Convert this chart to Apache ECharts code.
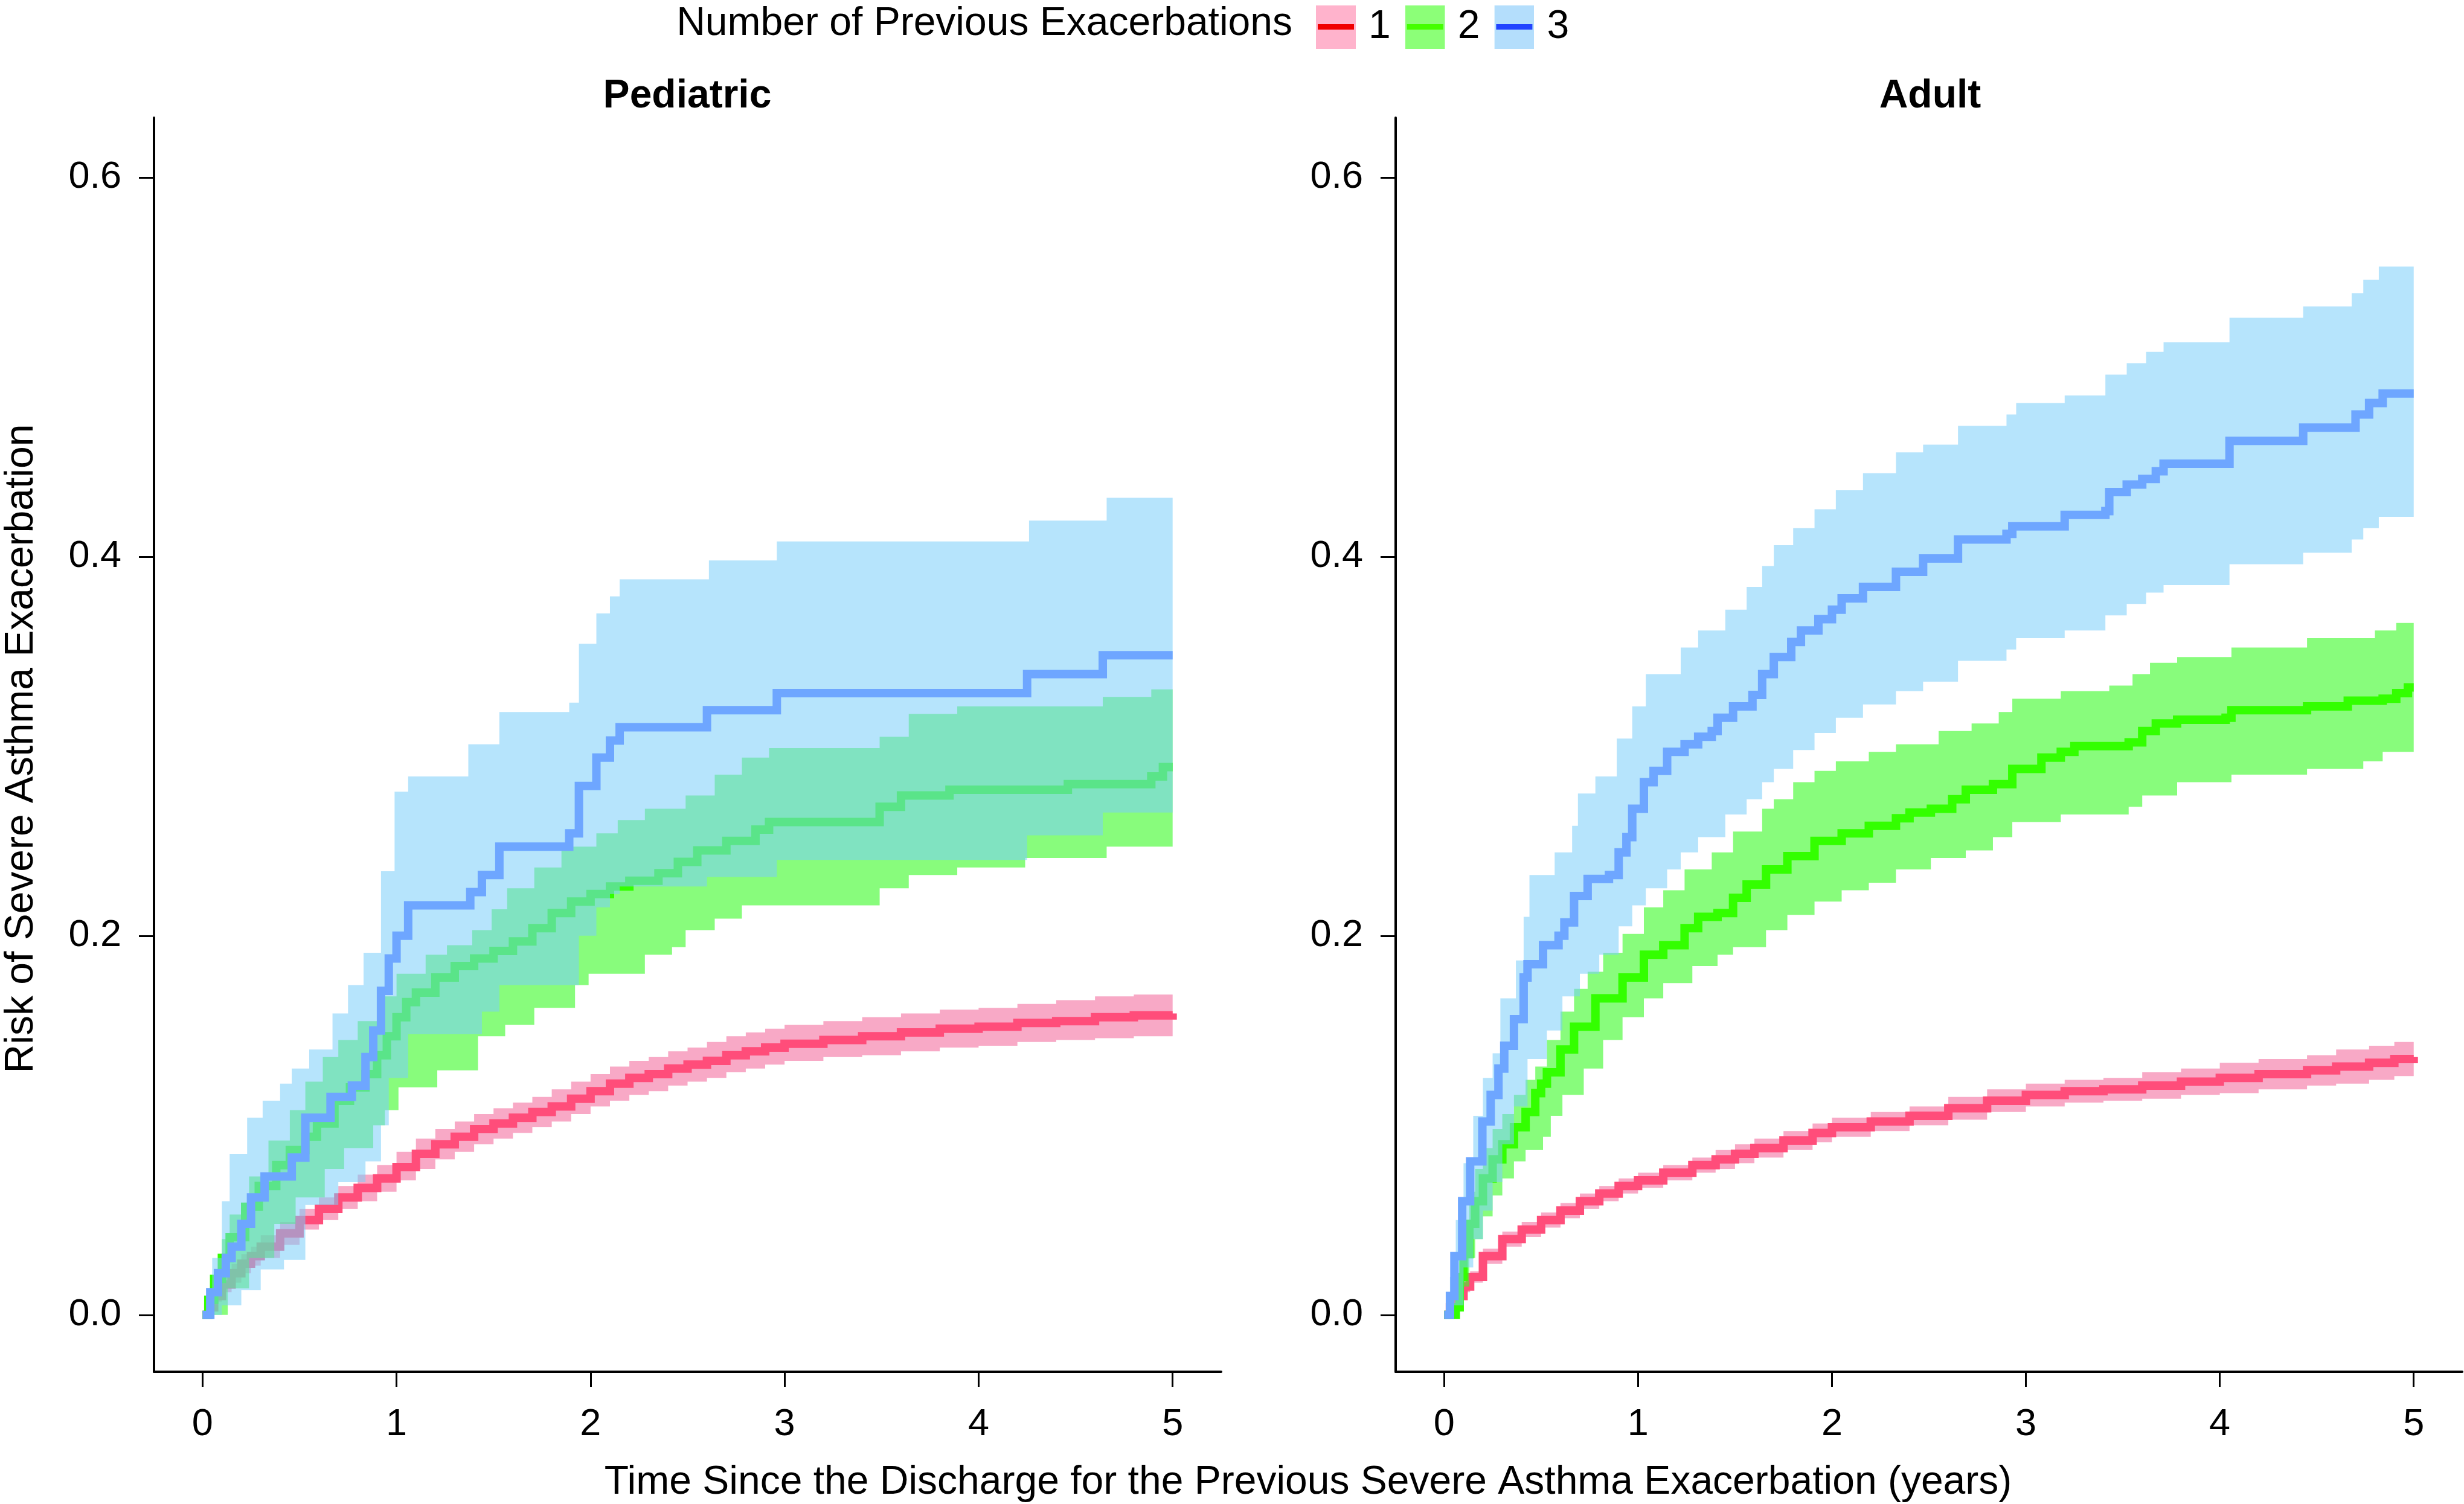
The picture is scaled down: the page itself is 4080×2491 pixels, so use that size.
<!DOCTYPE html>
<html><head><meta charset="utf-8">
<script src="https://cdn.jsdelivr.net/npm/echarts@6/dist/echarts.min.js"></script>
<style>html,body{margin:0;padding:0;background:#fff}#c{width:4080px;height:2491px}</style>
</head><body><div id="c"></div>
<script>
// ---------- text ----------
const groupNames = ['1', '2', '3'];
const legendTitle = 'Number of Previous Exacerbations';
const panelTitles = ['Pediatric', 'Adult'];
const xTitle = 'Time Since the Discharge for the Previous Severe Asthma Exacerbation (years)';
const yTitle = 'Risk of Severe Asthma Exacerbation';
const xTicks = [0, 1, 2, 3, 4, 5];
const yTicks = [0, 0.2, 0.4, 0.6];
const yTickLabels = ['0.0', '0.2', '0.4', '0.6'];

// ---------- Pediatric, 1 previous exacerbation ----------
const ped1X  = [0,0.03,0.06,0.1,0.15,0.2,0.25,0.3,0.4,0.5,0.6,0.7,0.8,0.9,1.0,1.1,1.2,1.3,1.4,1.5,1.6,1.7,1.8,1.9,2.0,2.1,2.2,2.3,2.4,2.5,2.6,2.7,2.8,2.9,3.0,3.2,3.4,3.6,3.8,4.0,4.2,4.4,4.6,4.8,5.0];
const ped1Y  = [0,0.004,0.01,0.016,0.022,0.027,0.031,0.036,0.043,0.05,0.056,0.062,0.067,0.072,0.078,0.085,0.09,0.094,0.098,0.101,0.104,0.107,0.11,0.114,0.118,0.122,0.125,0.127,0.13,0.132,0.134,0.137,0.139,0.141,0.143,0.145,0.147,0.149,0.151,0.152,0.154,0.155,0.157,0.158,0.159];
const ped1Lo = [0,0.002,0.007,0.012,0.017,0.022,0.026,0.030,0.037,0.045,0.050,0.056,0.060,0.065,0.071,0.077,0.082,0.086,0.090,0.093,0.096,0.099,0.102,0.106,0.110,0.113,0.116,0.118,0.121,0.123,0.125,0.128,0.130,0.132,0.134,0.136,0.137,0.139,0.141,0.142,0.144,0.145,0.146,0.147,0.148];
const ped1Hi = [0,0.006,0.013,0.020,0.027,0.032,0.036,0.042,0.049,0.056,0.062,0.068,0.074,0.079,0.086,0.093,0.098,0.102,0.106,0.109,0.112,0.115,0.119,0.123,0.127,0.131,0.134,0.136,0.139,0.141,0.144,0.147,0.149,0.151,0.153,0.155,0.157,0.159,0.161,0.162,0.164,0.166,0.168,0.169,0.170];

// ---------- Pediatric, 2 previous exacerbations ----------
const ped2X   = [0,0.03,0.06,0.1,0.14,0.22,0.29,0.38,0.45,0.53,0.59,0.68,0.76,0.84,0.9,0.95,1.0,1.05,1.1,1.2,1.3,1.4,1.5,1.6,1.7,1.8,1.9,2.0,2.1,2.2,2.35,2.45,2.55,2.7,2.85,2.92,3.49,3.6,3.85,4.46,4.89,4.95,5.0];
const ped2Y   = [0,0.008,0.019,0.03,0.041,0.057,0.068,0.079,0.087,0.094,0.101,0.113,0.12,0.127,0.137,0.147,0.157,0.165,0.17,0.178,0.184,0.188,0.192,0.197,0.204,0.212,0.218,0.222,0.226,0.229,0.233,0.239,0.245,0.25,0.256,0.26,0.268,0.274,0.277,0.28,0.284,0.289,0.289];
const ped2HiX = [0,0.05,0.1,0.14,0.24,0.34,0.45,0.53,0.62,0.7,0.8,0.9,1.0,1.15,1.26,1.39,1.49,1.57,1.71,1.85,2.03,2.14,2.28,2.49,2.64,2.78,2.92,3.49,3.64,3.89,4.64,4.89,5.0];
const ped2Hi  = [0,0.02,0.04,0.053,0.073,0.092,0.108,0.123,0.136,0.145,0.155,0.168,0.18,0.19,0.195,0.203,0.214,0.225,0.236,0.247,0.254,0.261,0.267,0.274,0.285,0.294,0.299,0.305,0.317,0.321,0.326,0.33,0.33];
const ped2LoX = [0,0.13,0.24,0.37,0.48,0.63,0.73,0.88,0.94,1.01,1.21,1.42,1.56,1.71,1.92,1.99,2.28,2.42,2.49,2.64,2.78,3.49,3.64,3.89,4.24,4.66,5.0];
const ped2Lo  = [0,0.014,0.03,0.048,0.062,0.077,0.088,0.1,0.108,0.12,0.129,0.147,0.153,0.162,0.174,0.18,0.19,0.194,0.203,0.209,0.216,0.225,0.232,0.236,0.241,0.247,0.247];

// ---------- Pediatric, 3 previous exacerbations ----------
const ped3X   = [0,0.04,0.08,0.12,0.15,0.2,0.25,0.32,0.46,0.53,0.66,0.77,0.84,0.88,0.92,0.96,1.0,1.06,1.38,1.44,1.53,1.89,1.94,2.03,2.1,2.15,2.6,2.96,4.25,4.64,5.0];
const ped3Y   = [0,0.012,0.022,0.03,0.036,0.048,0.062,0.073,0.083,0.104,0.115,0.121,0.136,0.15,0.171,0.188,0.2,0.216,0.223,0.232,0.247,0.254,0.279,0.294,0.303,0.31,0.319,0.328,0.338,0.348,0.348];
const ped3HiX = [0,0.05,0.1,0.14,0.23,0.31,0.4,0.46,0.55,0.67,0.75,0.83,0.92,0.99,1.06,1.37,1.53,1.89,1.94,2.03,2.1,2.15,2.61,2.96,4.26,4.66,5.0];
const ped3Hi  = [0,0.03,0.06,0.085,0.104,0.113,0.122,0.13,0.14,0.159,0.174,0.191,0.234,0.276,0.284,0.301,0.318,0.323,0.354,0.37,0.379,0.388,0.398,0.408,0.419,0.431,0.431];
const ped3LoX = [0,0.1,0.2,0.3,0.42,0.53,0.7,0.84,0.92,0.96,1.06,1.44,1.53,1.94,2.03,2.1,2.15,2.6,2.96,4.25,4.64,5.0];
const ped3Lo  = [0,0.005,0.013,0.024,0.029,0.058,0.07,0.081,0.1,0.125,0.148,0.16,0.174,0.2,0.215,0.222,0.226,0.231,0.24,0.253,0.265,0.265];

// ---------- Adult, 1 previous exacerbation ----------
const ad1X  = [0,0.03,0.06,0.1,0.134,0.2,0.3,0.4,0.5,0.6,0.7,0.8,0.9,1.0,1.13,1.28,1.4,1.5,1.6,1.75,1.9,2.0,2.2,2.4,2.6,2.8,3.0,3.2,3.4,3.6,3.8,4.0,4.2,4.45,4.6,4.77,4.9,5.0];
const ad1Y  = [0,0.004,0.01,0.015,0.02,0.031,0.04,0.045,0.05,0.055,0.06,0.064,0.068,0.071,0.075,0.079,0.082,0.085,0.088,0.092,0.096,0.099,0.102,0.105,0.109,0.113,0.116,0.118,0.119,0.121,0.123,0.125,0.127,0.129,0.131,0.133,0.135,0.136];
const ad1Lo = [0,0.002,0.007,0.012,0.017,0.027,0.036,0.041,0.046,0.051,0.056,0.06,0.064,0.067,0.071,0.075,0.077,0.080,0.083,0.087,0.091,0.094,0.097,0.100,0.103,0.107,0.110,0.112,0.113,0.114,0.116,0.117,0.119,0.121,0.122,0.124,0.126,0.127];
const ad1Hi = [0,0.006,0.013,0.018,0.023,0.035,0.044,0.049,0.054,0.059,0.064,0.068,0.072,0.075,0.079,0.083,0.087,0.090,0.093,0.097,0.101,0.104,0.107,0.110,0.115,0.119,0.122,0.124,0.125,0.128,0.130,0.133,0.135,0.137,0.140,0.142,0.144,0.145];

// ---------- Adult, 2 previous exacerbations ----------
const ad2X   = [0,0.06,0.08,0.1,0.13,0.16,0.2,0.25,0.3,0.36,0.42,0.47,0.5,0.53,0.6,0.67,0.78,0.92,1.03,1.13,1.24,1.31,1.41,1.49,1.56,1.66,1.77,1.91,2.05,2.19,2.33,2.4,2.51,2.62,2.69,2.83,2.93,3.08,3.18,3.25,3.53,3.6,3.67,3.78,4.03,4.06,4.45,4.66,4.84,4.91,4.97,5.0];
const ad2Y   = [0,0.004,0.02,0.032,0.048,0.06,0.072,0.082,0.09,0.099,0.107,0.117,0.122,0.128,0.14,0.152,0.167,0.178,0.19,0.195,0.204,0.21,0.212,0.22,0.227,0.235,0.242,0.25,0.254,0.258,0.262,0.265,0.267,0.272,0.277,0.28,0.288,0.294,0.297,0.3,0.302,0.308,0.312,0.314,0.315,0.319,0.321,0.324,0.325,0.328,0.331,0.331];
const ad2HiX = [0,0.06,0.08,0.1,0.13,0.16,0.2,0.25,0.3,0.36,0.42,0.47,0.53,0.6,0.67,0.74,0.82,0.92,1.03,1.13,1.24,1.38,1.49,1.64,1.7,1.8,1.91,2.02,2.19,2.33,2.55,2.72,2.86,2.93,3.18,3.43,3.55,3.64,3.78,4.06,4.45,4.8,4.91,5.0];
const ad2Hi  = [0,0.01,0.035,0.05,0.065,0.077,0.088,0.098,0.106,0.116,0.124,0.131,0.145,0.16,0.172,0.181,0.191,0.201,0.215,0.224,0.235,0.244,0.255,0.267,0.272,0.281,0.287,0.292,0.297,0.301,0.308,0.312,0.318,0.325,0.329,0.332,0.338,0.344,0.347,0.352,0.357,0.361,0.365,0.365];
const ad2LoX = [0,0.08,0.1,0.13,0.16,0.2,0.25,0.3,0.36,0.42,0.51,0.55,0.61,0.72,0.82,0.92,1.03,1.13,1.28,1.41,1.49,1.66,1.77,1.91,2.05,2.19,2.33,2.51,2.69,2.83,2.93,3.18,3.53,3.6,3.78,4.06,4.45,4.74,4.84,5.0];
const ad2Lo  = [0,0.005,0.015,0.03,0.04,0.052,0.063,0.072,0.081,0.087,0.094,0.105,0.116,0.13,0.145,0.157,0.167,0.175,0.184,0.19,0.194,0.203,0.211,0.218,0.224,0.228,0.235,0.241,0.245,0.252,0.26,0.264,0.268,0.274,0.281,0.285,0.288,0.292,0.297,0.297];

// ---------- Adult, 3 previous exacerbations ----------
const ad3X   = [0,0.03,0.053,0.093,0.134,0.197,0.24,0.28,0.31,0.36,0.41,0.43,0.51,0.59,0.62,0.67,0.74,0.85,0.9,0.94,0.97,1.03,1.08,1.15,1.24,1.31,1.38,1.41,1.49,1.59,1.64,1.7,1.79,1.84,1.93,2.0,2.05,2.16,2.33,2.47,2.65,2.9,2.93,3.2,3.41,3.43,3.52,3.6,3.67,3.71,4.05,4.43,4.7,4.77,4.84,5.0];
const ad3Y   = [0,0.01,0.031,0.06,0.081,0.102,0.116,0.13,0.142,0.156,0.178,0.185,0.195,0.2,0.207,0.221,0.23,0.232,0.244,0.252,0.267,0.281,0.287,0.297,0.301,0.305,0.308,0.315,0.321,0.327,0.338,0.347,0.355,0.361,0.367,0.372,0.378,0.384,0.392,0.399,0.409,0.412,0.416,0.422,0.424,0.434,0.438,0.441,0.445,0.449,0.461,0.468,0.475,0.481,0.486,0.486];
const ad3HiX = [0,0.03,0.06,0.1,0.15,0.2,0.25,0.29,0.37,0.41,0.44,0.57,0.66,0.69,0.78,0.89,0.97,1.04,1.22,1.31,1.45,1.56,1.64,1.7,1.8,1.91,2.02,2.16,2.33,2.47,2.65,2.9,2.95,3.2,3.41,3.52,3.62,3.71,4.05,4.43,4.68,4.74,4.82,5.0];
const ad3Hi  = [0,0.02,0.05,0.08,0.105,0.125,0.138,0.167,0.187,0.21,0.232,0.244,0.258,0.275,0.284,0.304,0.321,0.338,0.352,0.361,0.372,0.384,0.395,0.406,0.415,0.425,0.435,0.444,0.455,0.459,0.469,0.475,0.481,0.485,0.496,0.502,0.508,0.513,0.526,0.532,0.539,0.546,0.553,0.553];
const ad3LoX = [0,0.05,0.1,0.15,0.2,0.25,0.3,0.36,0.43,0.53,0.61,0.7,0.8,0.9,0.97,1.04,1.15,1.22,1.31,1.45,1.56,1.64,1.7,1.8,1.91,2.02,2.16,2.33,2.47,2.65,2.9,2.95,3.2,3.41,3.52,3.62,3.71,4.05,4.43,4.68,4.74,4.82,5.0];
const ad3Lo  = [0,0.005,0.025,0.04,0.055,0.07,0.09,0.11,0.135,0.15,0.168,0.18,0.19,0.205,0.216,0.225,0.235,0.244,0.252,0.264,0.272,0.281,0.288,0.298,0.307,0.315,0.322,0.329,0.334,0.345,0.351,0.357,0.361,0.369,0.375,0.381,0.385,0.396,0.402,0.409,0.415,0.421,0.421];

// ---------- styling ----------
const FONT = '"Liberation Sans", Arial, Helvetica, sans-serif';
const bandColors = ['#F8A9C6', 'rgba(57,250,37,0.6)', 'rgba(122,206,250,0.55)'];
const lineColors = ['#FF4D7A', '#33FF00', '#6EA6FF'];
const keyFill = ['#FFB3CC', '#8CFF78', '#B4DEFC'];
const keyLine = ['#F00000', '#44FF00', '#2244FF'];

function pairs(xs, ys) { return xs.map((x, i) => [x, ys[i]]); }

function stepPath(api, xs, ys) {
  const pts = [];
  for (let i = 0; i < xs.length; i++) {
    pts.push(api.coord([xs[i], ys[i]]));
    if (i + 1 < xs.length) pts.push(api.coord([xs[i + 1], ys[i]]));
  }
  return pts;
}

function bandSeries(name, g, hiX, hi, loX, lo, color, z) {
  return {
    type: 'custom', name: name, xAxisIndex: g, yAxisIndex: g, z: z, silent: true,
    data: [[0, 0]], itemStyle: { color: color },
    renderItem: function (params, api) {
      const up = stepPath(api, hiX, hi);
      const dn = stepPath(api, loX, lo).reverse();
      return { type: 'polygon', shape: { points: up.concat(dn) }, style: { fill: color } };
    }
  };
}

function lineSeries(name, g, xs, ys, color, z) {
  return {
    type: 'line', name: name, xAxisIndex: g, yAxisIndex: g, z: z, step: 'end',
    showSymbol: false, symbol: 'none', silent: true, data: pairs(xs, ys),
    lineStyle: { color: color, width: 14, cap: 'butt', join: 'miter' },
    itemStyle: { color: color }
  };
}

function keyIcon(i) {
  const svg = "<svg xmlns='http://www.w3.org/2000/svg' width='66' height='72'>" +
    "<rect x='0' y='0' width='66' height='72' fill='" + keyFill[i] + "'/>" +
    "<rect x='3' y='31' width='60' height='9' fill='" + keyLine[i] + "'/></svg>";
  return 'image://data:image/svg+xml;charset=utf-8,' + encodeURIComponent(svg);
}

function xAxisFor(g) {
  return {
    type: 'value', gridIndex: g, min: -0.25, max: 5.25,
    axisLine: { show: true, onZero: false, lineStyle: { color: '#000', width: 4 } },
    axisTick: { show: true, length: 25, customValues: xTicks, lineStyle: { color: '#000', width: 3 } },
    axisLabel: { customValues: xTicks, fontSize: 63, color: '#000', fontFamily: FONT, margin: 56,
      formatter: v => String(v) },
    splitLine: { show: false }
  };
}
function yAxisFor(g) {
  return {
    type: 'value', gridIndex: g, min: -0.03, max: 0.6315,
    axisLine: { show: true, onZero: false, lineStyle: { color: '#000', width: 4 } },
    axisTick: { show: true, length: 25, customValues: yTicks, lineStyle: { color: '#000', width: 3 } },
    axisLabel: { customValues: yTicks, fontSize: 63, color: '#000', fontFamily: FONT, margin: 54,
      formatter: v => { const k = yTicks.findIndex(t => Math.abs(t - v) < 1e-9); return k >= 0 ? yTickLabels[k] : v.toFixed(1); } },
    splitLine: { show: false }
  };
}

const panels = [
  { bands: [[ped1X, ped1Hi, ped1X, ped1Lo], [ped2HiX, ped2Hi, ped2LoX, ped2Lo], [ped3HiX, ped3Hi, ped3LoX, ped3Lo]],
    lines: [[ped1X, ped1Y], [ped2X, ped2Y], [ped3X, ped3Y]] },
  { bands: [[ad1X, ad1Hi, ad1X, ad1Lo], [ad2HiX, ad2Hi, ad2LoX, ad2Lo], [ad3HiX, ad3Hi, ad3LoX, ad3Lo]],
    lines: [[ad1X, ad1Y], [ad2X, ad2Y], [ad3X, ad3Y]] }
];

const series = [];
panels.forEach((p, g) => {
  for (let k = 0; k < 3; k++) {
    const b = p.bands[k];
    series.push(bandSeries(groupNames[k], g, b[0], b[1], b[2], b[3], bandColors[k], 1 + 2 * k));
    series.push(lineSeries(groupNames[k], g, p.lines[k][0], p.lines[k][1], lineColors[k], 2 + 2 * k));
  }
});

const option = {
  backgroundColor: '#fff',
  animation: false,
  grid: [
    { left: 255, top: 195, width: 1767, height: 2077 },
    { left: 2311, top: 195, width: 1766, height: 2077 }
  ],
  xAxis: [xAxisFor(0), xAxisFor(1)],
  yAxis: [yAxisFor(0), yAxisFor(1)],
  legend: {
    left: 2174, top: 4, itemWidth: 66, itemHeight: 72, itemGap: 24, selectedMode: false,
    data: groupNames.map((n, i) => ({ name: n, icon: keyIcon(i) })),
    textStyle: { fontSize: 66, color: '#000', fontFamily: FONT, padding: [0, 0, 0, 16] }
  },
  graphic: [
    { type: 'text', x: 2140, y: 40, style: { text: legendTitle, align: 'right', verticalAlign: 'middle', font: '66px ' + FONT, fill: '#000' } },
    { type: 'text', x: 1138, y: 160, style: { text: panelTitles[0], align: 'center', verticalAlign: 'middle', font: 'bold 66px ' + FONT, fill: '#000' } },
    { type: 'text', x: 3196, y: 160, style: { text: panelTitles[1], align: 'center', verticalAlign: 'middle', font: 'bold 66px ' + FONT, fill: '#000' } },
    { type: 'text', x: 2166, y: 2456, style: { text: xTitle, align: 'center', verticalAlign: 'middle', font: '66px ' + FONT, fill: '#000' } },
    { type: 'text', x: 36, y: 1240, rotation: Math.PI / 2, style: { text: yTitle, align: 'center', verticalAlign: 'middle', font: '66px ' + FONT, fill: '#000' } }
  ],
  series: series
};

const chart = echarts.init(document.getElementById('c'), null, { renderer: 'canvas' });
chart.setOption(option);
</script>
</body></html>
